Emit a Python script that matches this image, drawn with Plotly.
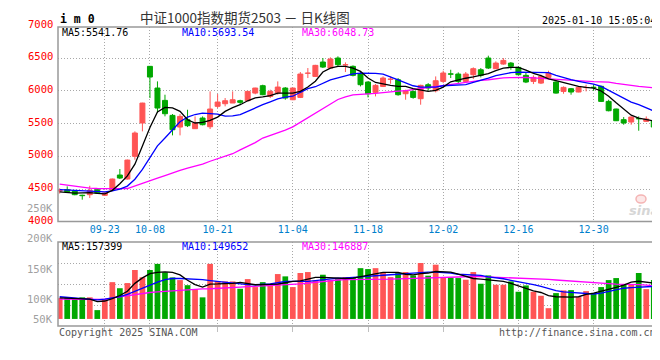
import plotly.graph_objects as go

# ---------------- data ----------------
dates = ["09-11", "09-12", "09-13", "09-18", "09-19", "09-20", "09-23", "09-24", "09-25", "09-26",
         "09-27", "09-30", "10-08", "10-09", "10-10", "10-11", "10-14", "10-15", "10-16", "10-17",
         "10-18", "10-21", "10-22", "10-23", "10-24", "10-25", "10-28", "10-29", "10-30", "10-31",
         "11-01", "11-04", "11-05", "11-06", "11-07", "11-08", "11-11", "11-12", "11-13", "11-14",
         "11-15", "11-18", "11-19", "11-20", "11-21", "11-22", "11-25", "11-26", "11-27", "11-28",
         "11-29", "12-02", "12-03", "12-04", "12-05", "12-06", "12-09", "12-10", "12-11", "12-12",
         "12-13", "12-16", "12-17", "12-18", "12-19", "12-20", "12-23", "12-24", "12-25", "12-26",
         "12-27", "12-30", "12-31", "01-02", "01-03", "01-06", "01-07", "01-08", "01-09", "01-10"]

opens = [4470, 4490, 4474, 4405, 4413, 4490, 4403, 4490, 4714, 4653,
         5000, 5510, 6377, 6045, 5856, 5627, 5448, 5560, 5423, 5586,
         5453, 5765, 5805, 5816, 5851, 5851, 5968, 6081, 5917, 5968,
         6045, 5866, 5902, 6270, 6223, 6443, 6351, 6504, 6398, 6377,
         6259, 6137, 5979, 6070, 6178, 6172, 5958, 5994, 5882, 6096,
         6004, 6147, 6262, 6259, 6147, 6249, 6325, 6504, 6341, 6412,
         6427, 6361, 6239, 6147, 6121, 6208, 6137, 5994, 6035, 5984,
         6052, 6058, 6071, 5841, 5724, 5561, 5525, 5578, 5535, 5545]
closes = [4478, 4455, 4413, 4398, 4480, 4440, 4440, 4653, 4668, 4943,
          5357, 5815, 6213, 5739, 5652, 5407, 5611, 5469, 5510, 5484,
          5724, 5831, 5851, 5866, 5826, 5994, 6045, 5943, 5994, 6060,
          5892, 6045, 6259, 6275, 6392, 6366, 6489, 6402, 6402, 6239,
          6096, 5958, 6086, 6198, 6183, 5943, 6004, 5902, 6086, 6045,
          6157, 6275, 6257, 6147, 6259, 6341, 6239, 6351, 6427, 6468,
          6377, 6249, 6137, 6208, 6223, 6275, 5968, 6055, 5984, 6055,
          6055, 6053, 5841, 5698, 5545, 5510, 5601, 5574, 5571, 5448]
highs = [4510, 4540, 4480, 4413, 4550, 4500, 4445, 4660, 4806, 4950,
         5382, 5820, 6380, 6147, 5943, 5647, 5647, 5713, 5611, 5611,
         5994, 5953, 5892, 5994, 5866, 6000, 6050, 6096, 6020, 6147,
         6060, 6050, 6290, 6351, 6400, 6504, 6514, 6530, 6438, 6392,
         6290, 6147, 6106, 6223, 6223, 6198, 6020, 6009, 6096, 6121,
         6223, 6310, 6325, 6285, 6290, 6361, 6351, 6540, 6453, 6504,
         6443, 6377, 6275, 6239, 6249, 6310, 6147, 6070, 6045, 6060,
         6096, 6096, 6081, 5866, 5730, 5601, 5611, 5611, 5611, 5627]
lows = [4430, 4440, 4405, 4337, 4362, 4430, 4395, 4485, 4653, 4645,
        4948, 5382, 5892, 5663, 5612, 5321, 5321, 5448, 5423, 5474,
        5418, 5739, 5765, 5816, 5800, 5845, 5950, 5935, 5892, 5943,
        5866, 5860, 5892, 6198, 6215, 6351, 6351, 6377, 6290, 6223,
        6070, 5902, 5917, 6060, 6111, 5928, 5866, 5882, 5790, 6004,
        5979, 6121, 6198, 6121, 6132, 6183, 6208, 6336, 6336, 6402,
        6325, 6239, 6121, 6106, 6106, 6183, 5960, 5958, 5943, 5980,
        5994, 6004, 5831, 5688, 5540, 5484, 5484, 5392, 5530, 5433]

ma5 = [4455, 4445, 4438, 4440, 4444, 4432, 4425, 4480, 4580, 4700,
       4880, 5160, 5440, 5680, 5749, 5742, 5688, 5560, 5510, 5520,
       5550, 5600, 5688, 5745, 5790, 5850, 5895, 5910, 5930, 5968,
       5968, 5968, 5995, 6060, 6150, 6290, 6350, 6377, 6377, 6351,
       6300, 6198, 6130, 6105, 6085, 6070, 6070, 6035, 6010, 5994,
       6010, 6060, 6140, 6170, 6195, 6215, 6238, 6265, 6310, 6350,
       6361, 6361, 6320, 6270, 6235, 6185, 6160, 6130, 6100, 6072,
       6055, 6045, 6000, 5920, 5820, 5720, 5630, 5585, 5560, 5542]
ma10 = [4490, 4484, 4478, 4470, 4465, 4460, 4455, 4470, 4500, 4545,
        4650, 4800, 4990, 5160, 5280, 5410, 5530, 5600, 5640, 5660,
        5658, 5645, 5615, 5620, 5637, 5690, 5745, 5790, 5835, 5880,
        5905, 5920, 5980, 6035, 6065, 6120, 6170, 6200, 6235, 6262,
        6274, 6275, 6268, 6259, 6220, 6170, 6125, 6080, 6060, 6055,
        6060, 6080, 6088, 6092, 6096, 6130, 6170, 6198, 6235, 6260,
        6280, 6290, 6290, 6290, 6290, 6280, 6240, 6205, 6175, 6148,
        6130, 6105, 6070, 6010, 5940, 5880, 5830, 5790, 5740, 5694]
ma30 = [4576, 4560, 4540, 4525, 4515, 4508, 4505, 4505, 4505, 4508,
        4545, 4585, 4617, 4665, 4705, 4750, 4785, 4820, 4850, 4880,
        4925, 4960, 5000, 5040, 5100, 5150, 5210, 5280, 5320, 5357,
        5400, 5450, 5520, 5590, 5660, 5730, 5800, 5870, 5910, 5940,
        5948, 5953, 5962, 5975, 5990, 5998, 6004, 6020, 6035, 6050,
        6065, 6085, 6100, 6120, 6135, 6150, 6162, 6172, 6190, 6200,
        6205, 6208, 6206, 6200, 6192, 6185, 6175, 6165, 6155, 6148,
        6145, 6142, 6140, 6135, 6115, 6096, 6085, 6070, 6060, 6049]

volumes_k = [101.7, 102.8, 101.7, 103, 103, 82, 99, 128, 118, 126.5,
             148, 136, 148, 158, 144, 135.8, 131.4, 123, 116.5, 103,
             158, 129.7, 129.2, 129.2, 117.1, 133, 119.9, 128, 124.8, 141.3,
             137.5, 119.9, 143, 144.6, 130.8, 140.2, 131.4, 133, 136.3, 136.3,
             151, 149.5, 151, 144, 136.3, 143, 144.6, 139, 159.5, 138.6,
             156.7, 136.3, 135.8, 134.7, 132, 144.6, 125.4, 139, 123.7, 123.7,
             129.2, 112.2, 122.6, 112.2, 105.6, 85.2, 110, 114.4, 114.9, 103.4,
             113.3, 110, 119.9, 131.4, 134.7, 124.8, 124.8, 143, 116.5, 131.4]
vol_ma5_k = [102, 101.5, 101, 100.6, 100, 96, 97, 101, 106, 113,
             126, 135, 142, 144, 145, 144, 140, 131, 124, 120,
             124.8, 125, 125, 126, 127.5, 125, 123.7, 124, 124.5, 124.8,
             127, 129.2, 130, 133, 135.8, 135.8, 135, 134, 134, 134.5,
             137, 140, 142, 144, 144, 144, 141, 140, 142, 143,
             145.5, 145.5, 144.6, 141, 137, 134, 133, 132, 131, 129.2,
             126, 122, 117, 113.5, 111, 106, 104, 103.5, 103.4, 104,
             108, 110, 112.7, 116, 119.3, 123, 128, 129.5, 128.5, 126.5]
vol_ma10_k = [104, 103, 102, 101, 100, 99, 100, 102, 104, 108,
              113, 119, 124, 128, 132, 134, 134, 133.6, 132.5, 132,
              130.5, 129, 128, 126, 124.8, 124, 123.7, 124, 125, 127,
              129.2, 129.2, 129.2, 129.2, 130.5, 132, 133, 134.5, 135, 135.5,
              136, 137.5, 138.5, 139, 140, 141, 142, 143, 144, 144.5,
              144.6, 144, 143, 141, 140, 139.5, 139, 136.5, 135.5, 133.6,
              131, 129, 126, 124, 121, 117, 114, 112, 111, 110,
              109.5, 108.5, 110, 112.7, 115, 118, 119, 119.5, 120, 121]
vol_ma30_k = [100, 100, 99.5, 99.5, 99, 99, 99.5, 102, 104, 106,
              108, 110, 111, 112, 113, 113.8, 114.5, 115.4, 116, 117,
              117.1, 117.5, 118, 119, 119.9, 120.5, 121, 122, 123, 123.7,
              123.7, 124, 125, 126.5, 128, 129.5, 130.5, 131.5, 132, 132,
              132, 132, 132, 132.5, 133, 133.5, 134, 134.5, 135, 135.5,
              135.8, 136.5, 137, 137.5, 137.5, 137.3, 137, 136.5, 136.3, 136,
              135.8, 135.5, 135, 134.5, 133.6, 132.5, 131.5, 130.5, 129.2, 128.5,
              127.5, 126.5, 126, 125.5, 124.8, 124.8, 124.8, 124, 123, 122]

tick_dates = ["09-23", "10-08", "10-21", "11-04", "11-18", "12-02", "12-16", "12-30"]
price_ticks = [4000, 4500, 5000, 5500, 6000, 6500, 7000]
vol_label_vals = [250000, 200000, 150000, 100000]
vol_label_text = ["250K", "200K", "150K", "100K"]

title_text = "中证1000指数期货2503 － 日K线图"
logo_text = "i m 0"
time_text = "2025-01-10 15:05:04"
price_ma_text = ["MA5:5541.76", "MA10:5693.54", "MA30:6048.73"]
vol_ma_text = ["MA5:157399", "MA10:149652", "MA30:146887"]
footer_left = "Copyright 2025 SINA.COM"
footer_right = "http://finance.sina.com.cn"

# ---------------- styling ----------------
for arr in (opens, closes, highs, lows, ma5, ma10, ma30, volumes_k, vol_ma5_k, vol_ma10_k, vol_ma30_k):
    assert len(arr) == len(dates)

RED = "#ff5555"
GREEN = "#00a800"
MONO = "DejaVu Sans Mono"
W, H = 660, 360
L, R, T, B = 50, 11, 19, 42
PW, PH = W - L - R, H - T - B


def pxx(x):
    return (x - L) / PW


def pxy(y):
    return (H - B - y) / PH


VOL_BASE = 67500
idx = list(range(len(dates)))
up = [c >= o for o, c in zip(opens, closes)]
colors = [RED if u else GREEN for u in up]
volumes = [v * 1000 for v in volumes_k]

main_dom = [pxy(213.5), 1.0]
vol_dom = [0.0, pxy(234)]
price_range = [4003, 6979]
vol_range = [55900, 194000]
vol_grid = [vol_range[0] + k * (vol_range[1] - vol_range[0]) / 4 for k in (1, 2, 3)]


def to_paper(v, rng, dom):
    return dom[0] + (v - rng[0]) / (rng[1] - rng[0]) * (dom[1] - dom[0])


fig = go.Figure()

# wicks
for flag, col in ((True, RED), (False, GREEN)):
    wx, wy = [], []
    for i in idx:
        if up[i] == flag:
            wx += [i, i, None]
            wy += [lows[i], highs[i], None]
    fig.add_trace(go.Scatter(x=wx, y=wy, mode="lines", line=dict(color=col, width=1),
                             xaxis="x", yaxis="y", hoverinfo="skip", showlegend=False))

# bodies
fig.add_trace(go.Bar(x=idx, base=[min(o, c) for o, c in zip(opens, closes)],
                     y=[abs(c - o) for o, c in zip(opens, closes)], width=0.66,
                     marker=dict(color=colors, line=dict(color=colors, width=1)),
                     xaxis="x", yaxis="y", showlegend=False, hoverinfo="skip"))

for vals, col in ((ma30, "#ff00ff"), (ma10, "#0000ff"), (ma5, "#000000")):
    fig.add_trace(go.Scatter(x=idx, y=vals, mode="lines", line=dict(color=col, width=1.3),
                             xaxis="x", yaxis="y", showlegend=False, hoverinfo="skip"))

# volume
fig.add_trace(go.Bar(x=idx, y=[v - VOL_BASE for v in volumes], base=VOL_BASE, width=0.76,
                     marker=dict(color=colors, line=dict(width=0)),
                     xaxis="x2", yaxis="y2", showlegend=False, hoverinfo="skip"))
for vals, col in ((vol_ma30_k, "#ff00ff"), (vol_ma10_k, "#0000ff"), (vol_ma5_k, "#000000")):
    fig.add_trace(go.Scatter(x=idx, y=[v * 1000 for v in vals], mode="lines",
                             line=dict(color=col, width=1.3),
                             xaxis="x2", yaxis="y2", showlegend=False, hoverinfo="skip"))

tickvals = [dates.index(d) for d in tick_dates]
xrange_ = [-0.226, 79.43]
grid_dash = "1px,2px"
GRID = "#a8a8a8"

fig.update_layout(
    width=W, height=H, margin=dict(l=L, r=R, t=T, b=B),
    paper_bgcolor="white", plot_bgcolor="white", barmode="overlay", showlegend=False,
    xaxis=dict(domain=[0, 1], anchor="y", range=xrange_, tickmode="array", tickvals=tickvals,
               ticktext=tick_dates, tickfont=dict(family=MONO, size=10, color="#0080cc"),
               showgrid=True, gridcolor=GRID, griddash=grid_dash, gridwidth=1,
               zeroline=False, showline=False, ticks=""),
    xaxis2=dict(domain=[0, 1], anchor="y2", range=xrange_, matches="x", tickmode="array",
                tickvals=tickvals, showticklabels=False, showgrid=True, gridcolor=GRID,
                griddash=grid_dash, zeroline=False, showline=False, ticks="outside",
                ticklen=5, tickcolor="#c0c0c0", tickwidth=1),
    yaxis=dict(domain=main_dom, anchor="x", range=price_range, tickmode="array",
               tickvals=price_ticks[1:-1], showticklabels=False, showgrid=True, gridcolor=GRID,
               griddash=grid_dash, zeroline=False, showline=False, ticks=""),
    yaxis2=dict(domain=vol_dom, anchor="x2", range=vol_range, tickmode="array",
                tickvals=vol_grid, showticklabels=False, showgrid=True, gridcolor=GRID,
                griddash=grid_dash, zeroline=False, showline=False, ticks=""),
)

# panel borders
for xr, yr in (("x", "y"), ("x2", "y2")):
    fig.add_shape(type="rect", xref=f"{xr} domain", yref=f"{yr} domain", x0=0, x1=1, y0=0, y1=1,
                  line=dict(color="#999999", width=1.5), fillcolor="rgba(0,0,0,0)", layer="above")

# watermark eye (decorative shape, not text)
fig.add_shape(type="circle", xref="paper", yref="paper",
              x0=pxx(628), x1=pxx(638), y0=pxy(195), y1=pxy(187),
              line=dict(color="#f4b4b4", width=1.5), fillcolor="rgba(250,215,215,0.6)")

ann = []
LABEL_X = pxx(47)
# price labels (placed on the price scale; converted to paper so they are never hidden)
for v in price_ticks:
    ann.append(dict(x=LABEL_X, xref="paper", y=to_paper(v, price_range, main_dom), yref="paper",
                    text=str(v), showarrow=False, xanchor="right", yanchor="middle", yshift=2,
                    font=dict(family=MONO, size=10.5, color="#ff0000")))
# volume labels
for v, t in zip(vol_label_vals, vol_label_text):
    ann.append(dict(x=LABEL_X, xref="paper", y=to_paper(v, vol_range, vol_dom), yref="paper",
                    text=t, showarrow=False, xanchor="right", yanchor="middle",
                    font=dict(family=MONO, size=10.5, color="#a0a0a0")))
ann.append(dict(x=LABEL_X, xref="paper", y=to_paper(VOL_BASE, vol_range, vol_dom), yref="paper",
                text="50K", showarrow=False, xanchor="right", yanchor="middle",
                font=dict(family=MONO, size=10.5, color="#a0a0a0")))

# header
ann.append(dict(x=pxx(51), xref="paper", y=pxy(11), yref="paper", text="<b>" + logo_text + "</b>",
                showarrow=False, xanchor="left", yanchor="middle", borderpad=0,
                font=dict(family=MONO, size=11.5, color="#000000")))
ann.append(dict(x=pxx(237), xref="paper", y=pxy(9.5), yref="paper", text=title_text,
                showarrow=False, xanchor="center", yanchor="middle", borderpad=0,
                font=dict(family="Noto Sans CJK SC", size=13.5, color="#333333")))
ann.append(dict(x=pxx(649), xref="paper", y=pxy(12), yref="paper", text=time_text,
                showarrow=False, xanchor="right", yanchor="middle", borderpad=0,
                font=dict(family=MONO, size=10, color="#000000")))

ma_cols = ["#000000", "#0000ff", "#ff00ff"]
ma_x = [53, 173, 293]
for t, c, xx in zip(price_ma_text, ma_cols, ma_x):
    ann.append(dict(x=pxx(xx), xref="paper", y=pxy(24.5), yref="paper", text=t, showarrow=False,
                    xanchor="left", yanchor="middle", borderpad=0,
                    font=dict(family=MONO, size=10, color=c)))
for t, c, xx in zip(vol_ma_text, ma_cols, ma_x):
    ann.append(dict(x=pxx(xx), xref="paper", y=pxy(238.5), yref="paper", text=t, showarrow=False,
                    xanchor="left", yanchor="middle", borderpad=0,
                    font=dict(family=MONO, size=10, color=c)))

# footer
ann.append(dict(x=pxx(49), xref="paper", y=pxy(324), yref="paper", text=footer_left,
                showarrow=False, xanchor="left", yanchor="middle",
                font=dict(family=MONO, size=10, color="#555555")))
ann.append(dict(x=pxx(650), xref="paper", y=pxy(324), yref="paper", text=footer_right,
                showarrow=False, xanchor="right", yanchor="middle",
                font=dict(family=MONO, size=10, color="#555555")))
# watermark text
ann.append(dict(x=pxx(636), xref="paper", y=pxy(202), yref="paper", text="<b><i>sina</i></b>",
                showarrow=False, xanchor="center", yanchor="middle", borderpad=0,
                font=dict(family="DejaVu Sans", size=13, color="#d6d6d6")))

fig.update_layout(annotations=ann)
fig.write_html("out.html", config={"displayModeBar": False})
